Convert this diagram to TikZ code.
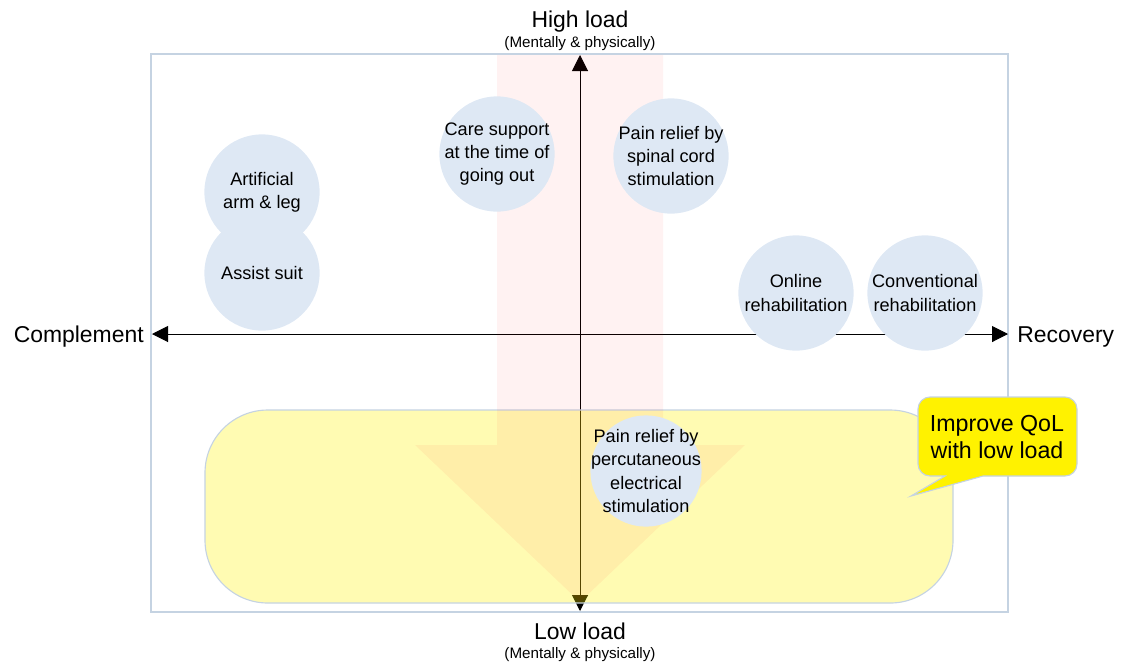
\documentclass[tikz,border=0pt]{standalone}
\usepackage{fontspec}
\setmainfont{Liberation Sans}
\usetikzlibrary{arrows.meta,shapes}
\definecolor{framecol}{HTML}{C5D3E2}
\definecolor{circcol}{HTML}{DEE8F4}
\begin{document}
\begin{tikzpicture}[x=0.025cm, y=-0.025cm, main node/.style={circle, fill=circcol, minimum size=2.88cm, inner sep=0pt}, in text/.style={align=center, font=\fontsize{12.9}{16.5}\selectfont}, label node/.style={inner sep=0pt, font=\fontsize{16.3}{19}\selectfont}, small node/.style={inner sep=0pt, font=\fontsize{10.8}{13}\selectfont}, axis/.style={line width=0.7pt, {Triangle[length=0.4cm,width=0.4cm]}-{Triangle[length=0.4cm,width=0.4cm]}}]
\useasboundingbox (0,0) rectangle (1122,666);
\draw [framecol, line width=0.8pt] (151,54) rectangle (1008,612);
\coordinate (top) at (580,55);
\coordinate (bot) at (580,611);
\coordinate (left) at (152,334);
\coordinate (right) at (1008,334);
\draw [axis] (left) -- (right);
\draw [axis] (bot) -- (top);
% low load area
\draw [framecol, line width=0.8pt, fill=yellow, fill opacity=0.3, rounded corners=1.57cm] (205,410) rectangle (953,603);
\fill [red, opacity=0.05] (497,55) -- (663,55) -- (663,445) -- (745,445) -- (580,602) -- (415,445) -- (497,445) -- cycle;
\node[main node, label={[in text]center:Artificial\\arm \& leg}] (1) at (262,192) {};
\node[main node, label={[in text]center:Assist suit}] (2) at (262,273) {};
\node[main node, label={[in text]center:Care support\\at the time of\\going out}] (3) at (497,154) {};
\node[main node, label={[in text]center:Pain relief by\\spinal cord\\stimulation}] (4) at (671,156) {};
\node[main node, label={[in text]center:Online\\rehabilitation}] (5) at (796,293) {};
\node[main node, label={[in text]center:Conventional\\rehabilitation}] (6) at (925,293) {};
\node[main node, minimum size=2.78cm, label={[in text]center:Pain relief by\\percutaneous\\electrical\\stimulation}] (7) at (646,471) {};
% callout
\draw [framecol, line width=0.8pt, fill=yellow] (945,476) [rounded corners=0.3cm] -- (918,476) -- (918,397) -- (1077,397) -- (1077,476) [sharp corners] -- (983,476) -- (911,496) -- cycle;
\node[align=center, inner sep=0pt, font=\fontsize{16.5}{19.6}\selectfont] (q) at (997,437) {Improve QoL\\with low load};
\node[label node, anchor=base] (hi) at (580,27) {High load};
\node[small node, anchor=base] (his) at (580,47) {(Mentally \& physically)};
\node[label node, anchor=base] (lo) at (580,639) {Low load};
\node[small node, anchor=base] (los) at (580,658) {(Mentally \& physically)};
\node[label node, anchor=base east] (com) at (144,342) {Complement};
\node[label node, anchor=base west] (rec) at (1017,342) {Recovery};
\end{tikzpicture}
\end{document}
